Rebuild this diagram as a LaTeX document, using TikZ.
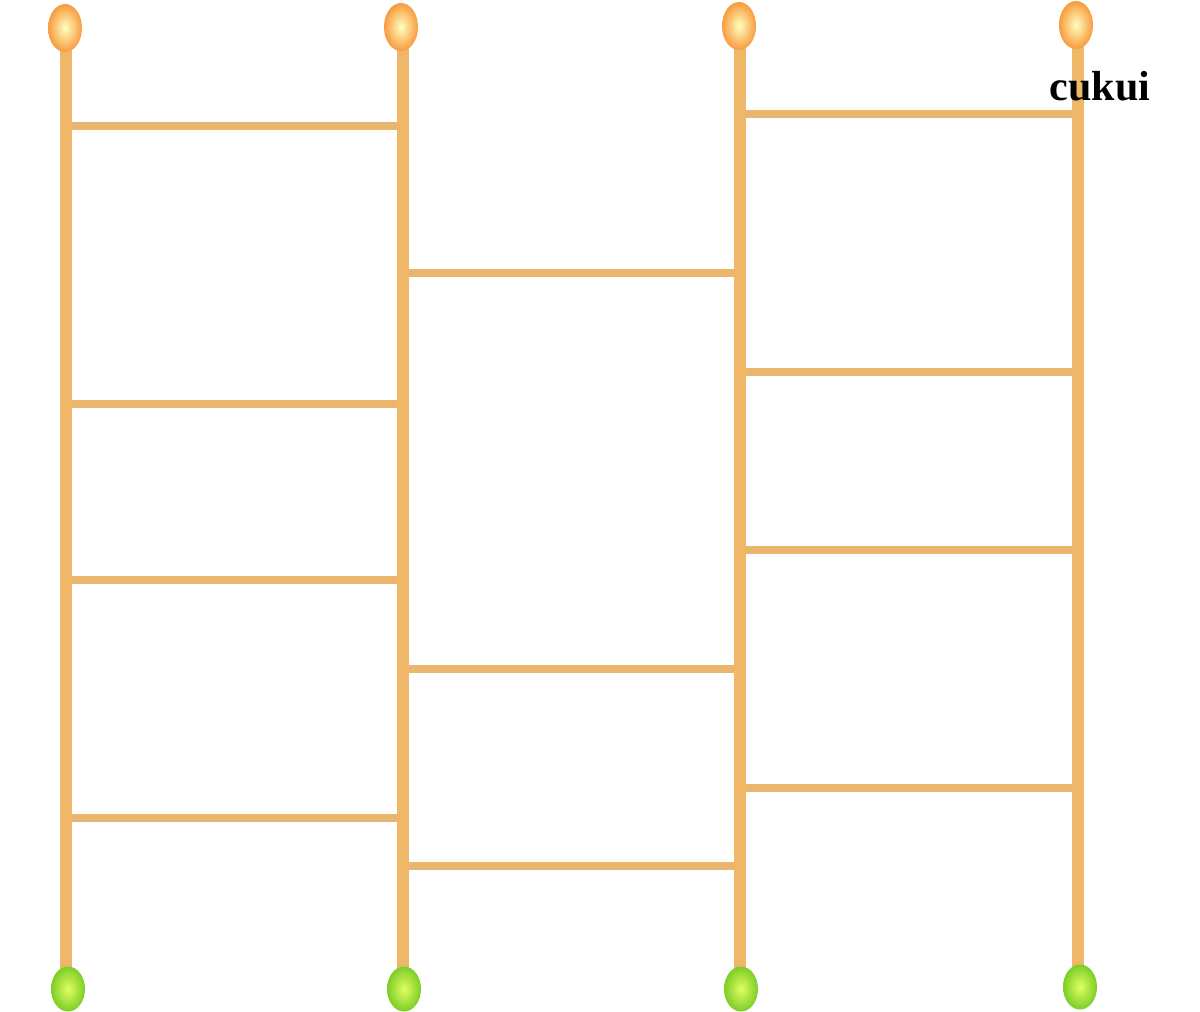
\documentclass[tikz,border=0pt]{standalone}
\usepackage{fontspec}
\setmainfont{Liberation Serif}
\usetikzlibrary{shapes.geometric}
\definecolor{pole}{RGB}{238,184,104}
\definecolor{rung}{RGB}{234,182,110}
\definecolor{orangeball}{RGB}{248,155,62}
\definecolor{greenball}{RGB}{125,205,40}
\tikzset{
  topball/.style={ellipse, minimum width=34pt, minimum height=48pt, inner sep=0pt,
    inner color=white!75!yellow, outer color=orangeball, draw=none},
  botball/.style={ellipse, minimum width=34pt, minimum height=45pt, inner sep=0pt,
    inner color=white!75!green!50!yellow, outer color=greenball, draw=none},
  polestyle/.style={draw=pole, line width=12pt},
  rungstyle/.style={draw=rung, line width=8pt},
  lbl/.style={font=\fontsize{42}{48}\selectfont\bfseries, text=black, inner sep=0pt}
}
\begin{document}
\begin{tikzpicture}[x=1pt,y=-1pt]
\useasboundingbox (0,0) rectangle (1200,1012);
\fill[white] (0,0) rectangle (1200,1012);
% pole coordinates
\foreach \n/\x in {1/66,2/403,3/740,4/1078}{
  \coordinate (t\n) at (\x,28);
  \coordinate (b\n) at (\x,989);
}
% rungs between poles 1 and 2
\foreach \y [count=\i] in {126,404,580,818}{
  \coordinate (a\i) at (66,\y); \coordinate (c\i) at (403,\y);
  \draw[rungstyle] (a\i) -- (c\i);
}
% rungs between poles 2 and 3
\foreach \y [count=\i] in {273,669,866}{
  \coordinate (d\i) at (403,\y); \coordinate (e\i) at (740,\y);
  \draw[rungstyle] (d\i) -- (e\i);
}
% rungs between poles 3 and 4
\foreach \y [count=\i] in {114,372,550,788}{
  \coordinate (f\i) at (740,\y); \coordinate (g\i) at (1078,\y);
  \draw[rungstyle] (f\i) -- (g\i);
}
% poles
\foreach \n in {1,2,3,4}{
  \draw[polestyle] (t\n) -- (b\n);
}
% balls
\node[topball] (T1) at (65,28) {};
\node[topball] (T2) at (401,27) {};
\node[topball] (T3) at (739,26) {};
\node[topball] (T4) at (1076,25) {};
\node[botball] (B1) at (68,989) {};
\node[botball] (B2) at (404,989) {};
\node[botball] (B3) at (741,989) {};
\node[botball] (B4) at (1080,987) {};
\node[lbl] (L) at (1100,86) {cukui};
\end{tikzpicture}
\end{document}
